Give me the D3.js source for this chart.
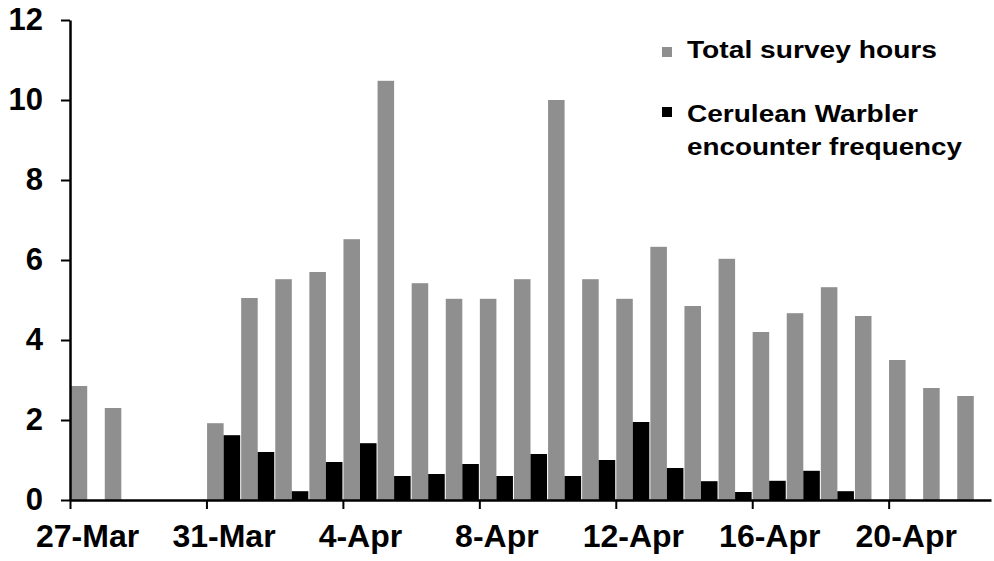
<!DOCTYPE html>
<html>
<head>
<meta charset="utf-8">
<script src="https://cdn.jsdelivr.net/npm/d3@7"></script>
<style>
  body { margin: 0; background: #fff; }
  svg { display: block; font-family: "Liberation Sans", Arial, sans-serif; font-weight: bold; }
</style>
</head>
<body>
<div id="graph"></div>
<script>
// one entry per day, 27-Mar .. 22-Apr
var days = ["27-Mar","28-Mar","29-Mar","30-Mar","31-Mar",
            "1-Apr","2-Apr","3-Apr","4-Apr","5-Apr","6-Apr","7-Apr","8-Apr","9-Apr","10-Apr",
            "11-Apr","12-Apr","13-Apr","14-Apr","15-Apr","16-Apr","17-Apr","18-Apr","19-Apr",
            "20-Apr","21-Apr","22-Apr"];
var hours = [2.85, 2.3, 0, 0, 1.92, 5.05, 5.52, 5.7, 6.52, 10.48, 5.42, 5.03, 5.03, 5.52,
             10.0, 5.52, 5.03, 6.33, 4.85, 6.03, 4.2, 4.67, 5.32, 4.6, 3.5, 2.8, 2.6];
var freq = [0, 0, 0, 0, 1.62, 1.2, 0.22, 0.95, 1.42, 0.6, 0.65, 0.9, 0.6, 1.15,
            0.6, 1.0, 1.95, 0.8, 0.47, 0.2, 0.48, 0.73, 0.22, 0, 0, 0, 0];
var tickDays = ["27-Mar","31-Mar","4-Apr","8-Apr","12-Apr","16-Apr","20-Apr"];
var yTicks = [0, 2, 4, 6, 8, 10, 12];
var seriesNames = ["Total survey hours", "Cerulean Warbler encounter frequency"];

var W = 994, H = 561;
var mLeft = 70, mRight = 991, mTop = 20, mBottom = 500;

var svg = d3.select("#graph").append("svg")
    .attr("width", W).attr("height", H);

var y = d3.scaleLinear().domain([0, 12]).range([mBottom, mTop]);
var x = d3.scaleBand().domain(days).range([mLeft, mRight])
    .paddingInner(0.03).paddingOuter(0.02);
var xs = d3.scaleBand().domain([0, 1]).range([0, x.bandwidth()]);
// linear day index scale for the date ticks (ticks sit at the start of each day)
var xi = d3.scaleLinear().domain([0, days.length]).range([mLeft, mRight]);
var step = (mRight - mLeft) / days.length;

var colors = ["#8f8f8f", "#000"];

var rows = days.map(function(d, i) { return {day: d, v: [hours[i], freq[i]]}; });

var g = svg.selectAll("g.day")
  .data(rows)
  .enter()
  .append("g")
  .attr("class", "day")
  .attr("transform", function(d) { return "translate(" + x(d.day) + ",0)"; });

g.selectAll("rect")
  .data(function(d) { return d.v; })
  .enter()
  .append("rect")
  .attr("x", function(d, i) { return xs(i); })
  .attr("width", xs.bandwidth())
  .attr("y", function(d) { return y(d); })
  .attr("height", function(d) { return mBottom - y(d); })
  .attr("fill", function(d, i) { return colors[i]; });

// y axis
var yAxis = svg.append("g")
  .attr("transform", "translate(" + mLeft + ",0)")
  .call(d3.axisLeft(y).tickValues(yTicks).tickSize(9).tickPadding(18).tickSizeOuter(0));
yAxis.select(".domain").attr("stroke", "#000").attr("stroke-width", 2.5);
yAxis.selectAll(".tick line").attr("stroke-width", 2);
yAxis.selectAll("text").style("font-size", "31px").attr("fill", "#000");

// x axis
var xAxis = svg.append("g")
  .attr("transform", "translate(0," + mBottom + ")")
  .call(d3.axisBottom(xi)
    .tickValues(tickDays.map(function(d) { return days.indexOf(d); }))
    .tickFormat(function(i) { return days[i]; })
    .tickSize(9).tickSizeOuter(0).tickPadding(15));
xAxis.select(".domain").attr("stroke", "#000").attr("stroke-width", 2.5);
xAxis.selectAll(".tick line").attr("stroke-width", 2);
xAxis.selectAll("text")
  .style("font-size", "32px").attr("fill", "#000")
  .attr("x", step / 2);

// legend
var legend = svg.append("g").attr("transform", "translate(662,0)");
legend.append("rect").attr("x", 0).attr("y", 47).attr("width", 10).attr("height", 10).attr("fill", colors[0]);
legend.append("text").attr("x", 25).attr("y", 58).style("font-size", "23px")
  .attr("textLength", 250).attr("lengthAdjust", "spacingAndGlyphs")
  .text(seriesNames[0]);
legend.append("rect").attr("x", 0).attr("y", 107).attr("width", 10).attr("height", 10).attr("fill", colors[1]);
legend.append("text").attr("x", 25).attr("y", 122).style("font-size", "23px")
  .attr("textLength", 231).attr("lengthAdjust", "spacingAndGlyphs")
  .text("Cerulean Warbler");
legend.append("text").attr("x", 25).attr("y", 155).style("font-size", "23px")
  .attr("textLength", 275).attr("lengthAdjust", "spacingAndGlyphs")
  .text("encounter frequency");
</script>
</body>
</html>
